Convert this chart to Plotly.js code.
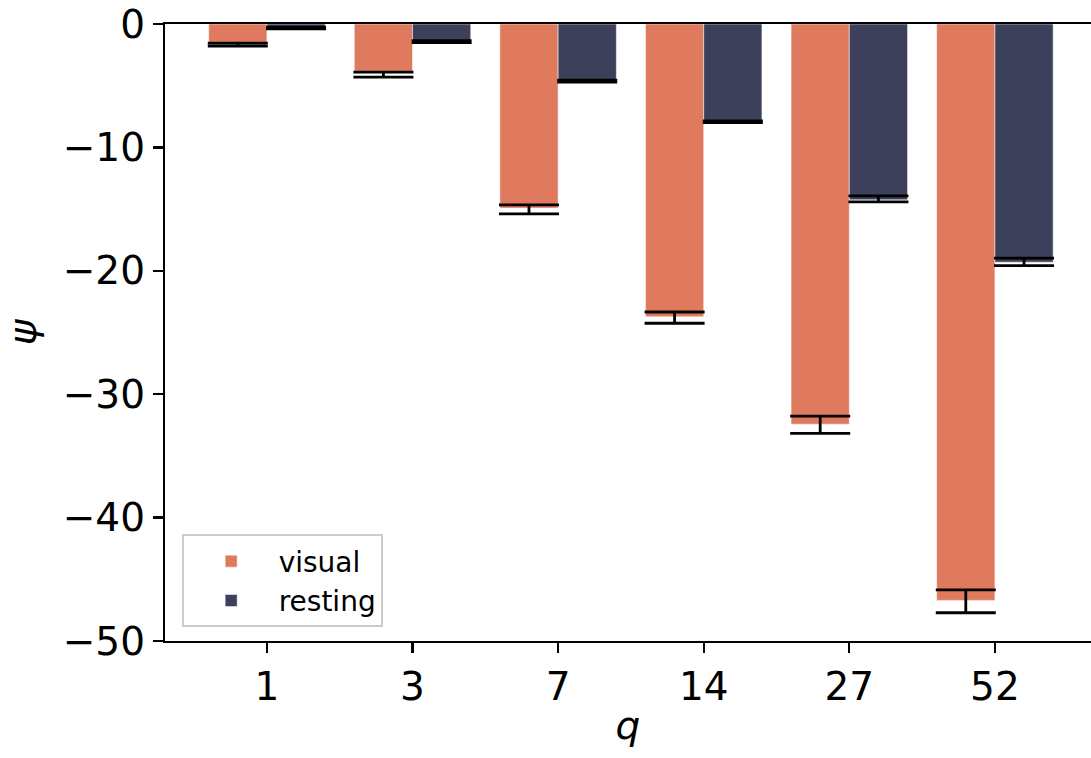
<!DOCTYPE html>
<html>
<head>
<meta charset="utf-8">
<script src="https://cdn.plot.ly/plotly-3.0.1.min.js"></script>
<style>html,body{margin:0;padding:0;background:#fff;}#chart{width:1091px;height:758px;}</style>
</head>
<body>
<div id="chart"></div>
<script>
const categories = ['1', '3', '7', '14', '27', '52'];
const visualValues = [-1.6, -3.95, -14.92, -23.72, -32.43, -46.71];
const visualErrUp = [0.05, 0.05, 0.27, 0.38, 0.65, 0.86];
const visualErrDown = [0.2, 0.35, 0.46, 0.53, 0.75, 1.0];
const restingValues = [-0.3, -1.4, -4.6, -7.9, -14.25, -19.3];
const restingErrUp = [0.05, 0.05, 0.05, 0.05, 0.32, 0.32];
const restingErrDown = [0.1, 0.1, 0.1, 0.1, 0.16, 0.28];

const errStyle = {color: '#000000', thickness: 2.8, width: 30};

const traces = [
  {
    type: 'bar', name: 'visual', x: categories, y: visualValues,
    marker: {color: '#E07A5F', line: {color: 'rgba(255,255,255,0.5)', width: 1}},
    error_y: Object.assign({type: 'data', symmetric: false, array: visualErrUp, arrayminus: visualErrDown}, errStyle)
  },
  {
    type: 'bar', name: 'resting', x: categories, y: restingValues,
    marker: {color: '#3D405B', line: {color: 'rgba(255,255,255,0.5)', width: 1}},
    error_y: Object.assign({type: 'data', symmetric: false, array: restingErrUp, arrayminus: restingErrDown}, errStyle)
  }
];

const font = {family: 'DejaVu Sans, sans-serif', size: 39, color: '#000000'};

const layout = {
  width: 1091, height: 758,
  margin: {l: 165, r: 0, t: 24, b: 117},
  paper_bgcolor: '#ffffff', plot_bgcolor: '#ffffff',
  font: font,
  barmode: 'group', bargap: 0.2, bargroupgap: 0,
  showlegend: true,
  legend: {
    x: 0.018, y: 0.022, xanchor: 'left', yanchor: 'bottom',
    bgcolor: 'rgba(255,255,255,0.8)', bordercolor: '#cccccc', borderwidth: 2,
    font: {family: 'DejaVu Sans, sans-serif', size: 28, color: '#000000'},
    traceorder: 'normal', itemwidth: 85, tracegroupgap: 4
  },
  xaxis: {
    type: 'category', range: [-0.7, 5.66],
    showline: true, linecolor: '#000000', linewidth: 2.2, mirror: true,
    ticks: 'outside', ticklen: 10, tickwidth: 2.2, tickcolor: '#000000',
    showgrid: false, zeroline: false,
    tickfont: font,
    title: {text: '<i>q</i>', font: font, standoff: 4}
  },
  yaxis: {
    range: [-50, 0], tickmode: 'array', tickvals: [-50, -40, -30, -20, -10, 0],
    showline: true, linecolor: '#000000', linewidth: 2.2, mirror: false,
    ticks: 'outside', ticklen: 10, tickwidth: 2.2, tickcolor: '#000000',
    showgrid: false, zeroline: false,
    tickfont: font,
    title: {text: '<i>ψ</i>', font: font, standoff: 14}
  }
};

Plotly.newPlot('chart', traces, layout, {displayModeBar: false, staticPlot: true});
</script>
</body>
</html>
